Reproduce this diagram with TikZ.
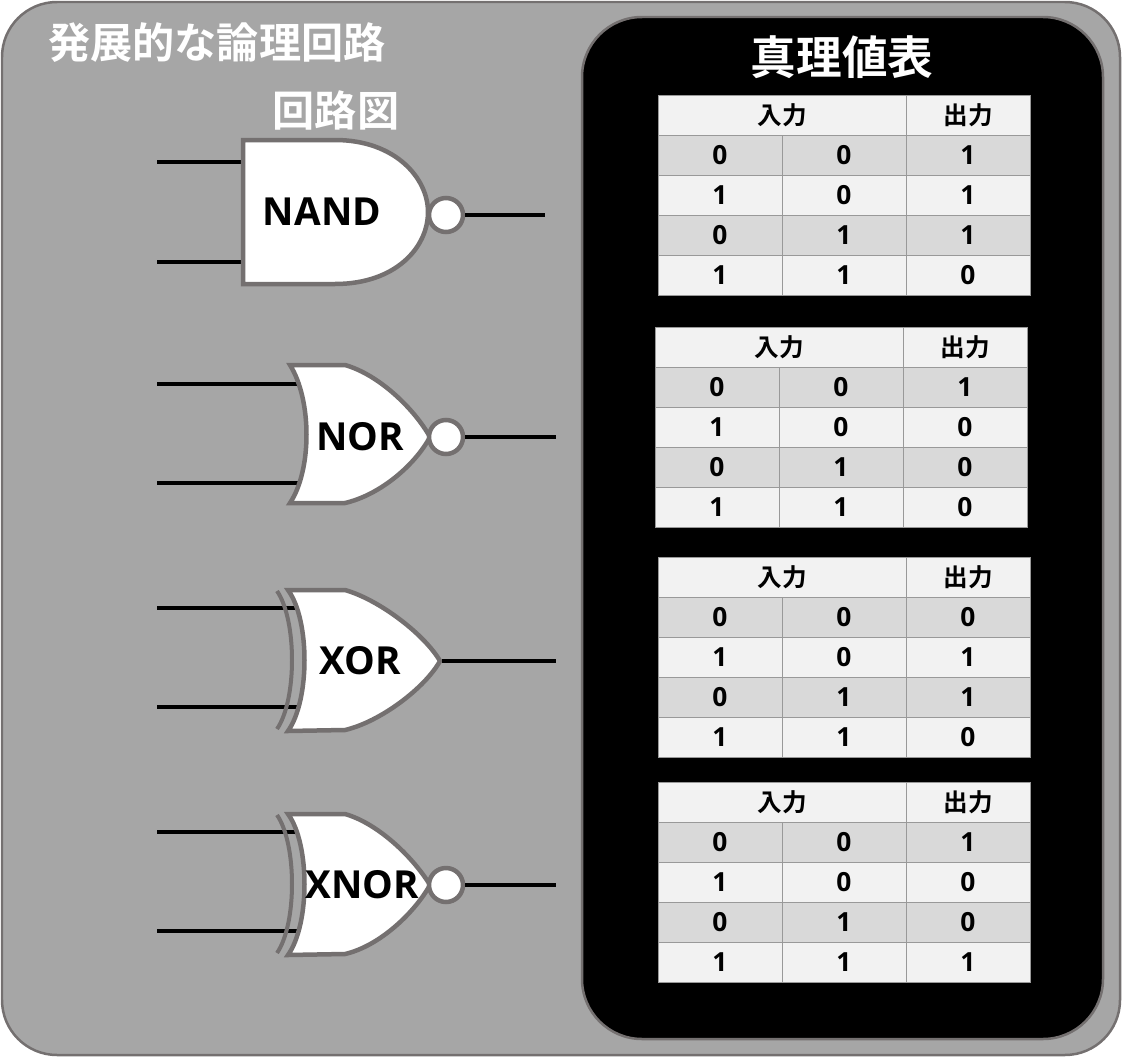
\documentclass[tikz,border=0pt]{standalone}
\usepackage{fontspec}
\setmainfont{Open Sans}
\newfontfamily\jpfont{Noto Sans CJK JP}[BoldFont={* Bold}]
\usetikzlibrary{positioning}

\definecolor{panelgray}{HTML}{A6A6A6}
\definecolor{edgegray}{HTML}{747070}
\definecolor{rowdark}{HTML}{D9D9D9}
\definecolor{rowlight}{HTML}{F2F2F2}

\tikzset{
  wire/.style={line width=0.08cm, black},
  gatebody/.style={fill=white, draw=edgegray, line width=0.09cm},
  gatelabel/.style={font=\bfseries\fontsize{22}{24}\selectfont},
  bubble/.style={circle, fill=white, draw=edgegray, line width=0.09cm, minimum size=0.68cm, inner sep=0pt},
  cell/.style={font=\bfseries\fontsize{15}{17}\selectfont},
  jpcell/.style={font=\jpfont\bfseries\fontsize{14}{16}\selectfont},
}

% Wahrheitstafel: x links, y oben, Werte a/b/q
\newcommand{\wahrtafel}[3]{%
  \fill[rowlight] (#1,#2) rectangle +(372,40);
  \node[jpcell] at (#1+124,#2+20) {入力};
  \node[jpcell] at (#1+310,#2+20) {出力};
  \foreach \a/\b/\q [count=\i] in {#3} {
    \pgfmathsetmacro{\yy}{#2+40*\i}
    \ifodd\i \def\rowc{rowdark}\else\def\rowc{rowlight}\fi
    \fill[\rowc] (#1,\yy) rectangle +(372,40);
    \node[cell] at (#1+62,\yy+20) {\a};
    \node[cell] at (#1+186,\yy+20) {\b};
    \node[cell] at (#1+310,\yy+20) {\q};
    \draw[gray!80, line width=0.02cm] (#1,\yy) -- +(372,0);
  }
  \draw[gray!80, line width=0.02cm] (#1+248,#2) -- +(0,200);
  \draw[gray!80, line width=0.02cm] (#1+124,#2+40) -- +(0,160);
  \draw[gray!80, line width=0.02cm] (#1,#2) rectangle +(372,200);
}

\begin{document}
\begin{tikzpicture}[x=0.02cm, y=-0.02cm]
    \useasboundingbox (0,0) rectangle (1123,1058);

    % Hintergrund
    \draw[fill=panelgray, draw=edgegray, line width=0.05cm, rounded corners=1.1cm] (2,2) rectangle (1120,1055);
    \draw[fill=black, draw=edgegray, line width=0.05cm, rounded corners=1.2cm] (582,17) rectangle (1103,1039);

    % Titel
    \node[white, anchor=west, font=\jpfont\bfseries\fontsize{24}{26}\selectfont] (titel) at (42,43) {発展的な論理回路};
    \node[white, font=\jpfont\bfseries\fontsize{24}{26}\selectfont] (kreis) at (336,110) {回路図};
    \node[white, font=\jpfont\bfseries\fontsize{26}{28}\selectfont] (tafel) at (842,57) {真理値表};

    % NAND
    \draw[wire] (157,162) -- (245,162);
    \draw[wire] (157,262) -- (245,262);
    \draw[gatebody] (243,140) -- (335,140) .. controls (395,140) and (428,178) .. (428,212)
        .. controls (428,248) and (395,284) .. (335,284) -- (243,284) -- cycle;
    \node[gatelabel] (nand) at (322,212) {NAND};
    \node[bubble] (b1) at (446,215) {};
    \draw[wire] (b1.east) -- (545,215);

    % NOR
    \draw[wire] (157,384) -- (300,384);
    \draw[wire] (157,483) -- (300,483);
    \draw[gatebody] (290,365) -- (345,365) .. controls (380,375) and (415,410) .. (430,437)
        .. controls (415,465) and (380,495) .. (345,503) -- (290,503)
        .. controls (312,470) and (312,400) .. cycle;
    \node[gatelabel] (nor) at (360,437) {NOR};
    \node[bubble] (b2) at (446,437) {};
    \draw[wire] (b2.east) -- (556,437);

    % XOR
    \draw[wire] (157,608) -- (298,608);
    \draw[wire] (157,707) -- (298,707);
    \draw[gatebody] (288,590) -- (345,590) .. controls (380,600) and (425,635) .. (440,661)
        .. controls (425,688) and (380,722) .. (345,730) -- (288,731)
        .. controls (310,700) and (310,620) .. cycle;
    \draw[edgegray, line width=0.08cm] (277,591) .. controls (297,620) and (297,700) .. (277,729);
    \node[gatelabel] (xor) at (360,661) {XOR};
    \draw[wire] (442,661) -- (556,661);

    % XNOR
    \draw[wire] (157,832) -- (298,832);
    \draw[wire] (157,931) -- (298,931);
    \draw[gatebody] (288,814) -- (345,814) .. controls (380,824) and (415,860) .. (430,885)
        .. controls (415,912) and (380,946) .. (345,954) -- (288,955)
        .. controls (310,924) and (310,844) .. cycle;
    \draw[edgegray, line width=0.08cm] (277,815) .. controls (297,844) and (297,924) .. (277,953);
    \node[gatelabel] (xnor) at (362,885) {XNOR};
    \node[bubble] (b4) at (446,885) {};
    \draw[wire] (b4.east) -- (556,885);

    % Tafeln
    \wahrtafel{658}{95}{0/0/1,1/0/1,0/1/1,1/1/0}
    \wahrtafel{655}{327}{0/0/1,1/0/0,0/1/0,1/1/0}
    \wahrtafel{658}{557}{0/0/0,1/0/1,0/1/1,1/1/0}
    \wahrtafel{658}{782}{0/0/1,1/0/0,0/1/0,1/1/1}
\end{tikzpicture}
\end{document}
